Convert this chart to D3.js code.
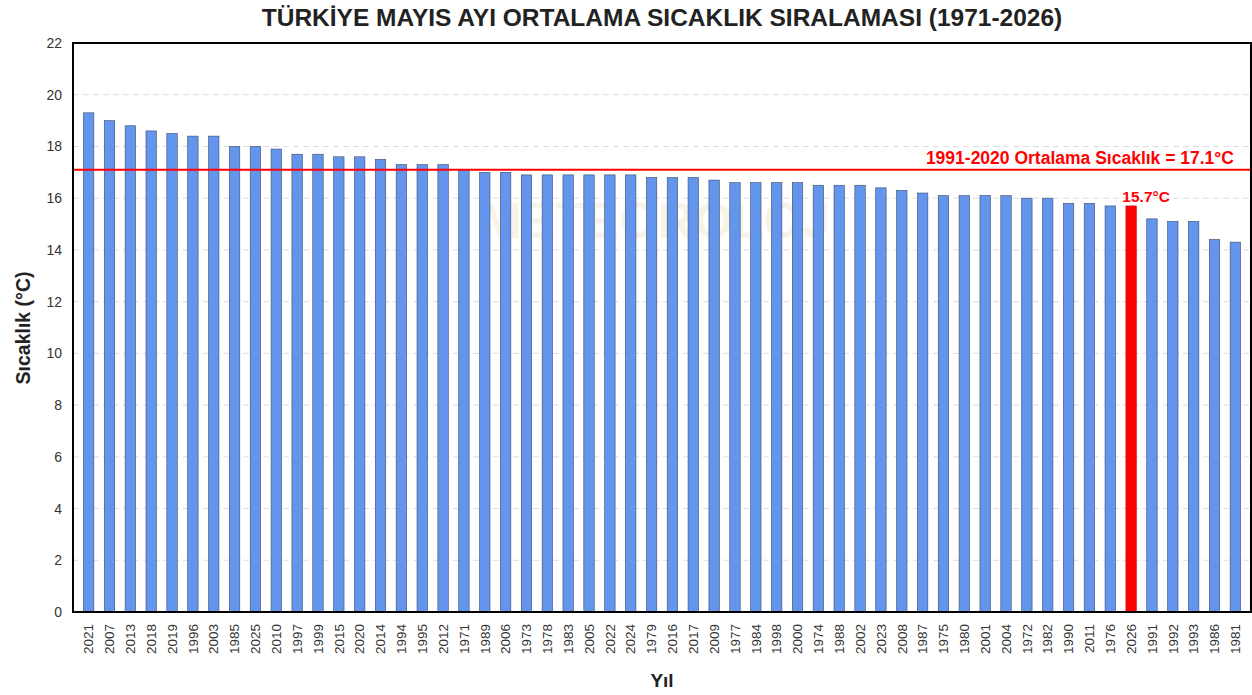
<!DOCTYPE html>
<html>
<head>
<meta charset="utf-8">
<script src="https://cdn.jsdelivr.net/npm/d3@7/dist/d3.min.js"></script>
<style>
  body { margin: 0; background: #fff; }
  text { font-family: "Liberation Sans", Arial, sans-serif; }
</style>
</head>
<body>
<svg width="1252" height="695"></svg>
<script>
// yillar (sirali) ve ortalama sicakliklar
var years = ["2021","2007","2013","2018","2019","1996","2003","1985","2025","2010",
  "1997","1999","2015","2020","2014","1994","1995","2012","1971","1989",
  "2006","1973","1978","1983","2005","2022","2024","1979","2016","2017",
  "2009","1977","1984","1998","2000","1974","1988","2002","2023","2008",
  "1987","1975","1980","2001","2004","1972","1982","1990","2011","1976",
  "2026","1991","1992","1993","1986","1981"];
var temps = [19.3,19.0,18.8,18.6,18.5,18.4,18.4,18.0,18.0,17.9,
  17.7,17.7,17.6,17.6,17.5,17.3,17.3,17.3,17.1,17.0,
  17.0,16.9,16.9,16.9,16.9,16.9,16.9,16.8,16.8,16.8,
  16.7,16.6,16.6,16.6,16.6,16.5,16.5,16.5,16.4,16.3,
  16.2,16.1,16.1,16.1,16.1,16.0,16.0,15.8,15.8,15.7,
  15.7,15.2,15.1,15.1,14.4,14.3];
var yTicks = [0,2,4,6,8,10,12,14,16,18,20,22];
var normal = 17.1;
var highlight = "2026";

var svg = d3.select("svg");
var pLeft = 73, pRight = 1251, pTop = 43, pBottom = 612;

var x = d3.scaleBand()
    .domain(years)
    .range([pLeft, pRight])
    .paddingInner(0.5)
    .paddingOuter(0.5);

var y = d3.scaleLinear()
    .domain([0, 22])
    .range([pBottom, pTop]);

// title
svg.append("text")
    .attr("x", (pLeft + pRight) / 2)
    .attr("y", 26)
    .attr("text-anchor", "middle")
    .style("font-size", "24.5px")
    .style("font-weight", "bold")
    .attr("fill", "#222")
    .text("TÜRKİYE MAYIS AYI ORTALAMA SICAKLIK SIRALAMASI (1971-2026)");

// grid
svg.append("g")
    .selectAll("line")
    .data(yTicks.slice(1, -1))
    .enter().append("line")
    .attr("x1", pLeft).attr("x2", pRight)
    .attr("y1", d => y(d)).attr("y2", d => y(d))
    .attr("stroke", "#dcdcdc")
    .attr("stroke-width", 1)
    .attr("stroke-dasharray", "6,4");

// faint watermark
svg.append("text")
    .attr("x", 662)
    .attr("y", 238)
    .attr("text-anchor", "middle")
    .style("font-size", "50px")
    .style("font-weight", "bold")
    .attr("fill", "#e6e0c0")
    .attr("opacity", 0.35)
    .text("METEOROLOJİ");

// bars
svg.append("g")
    .selectAll("rect")
    .data(years.map((d, i) => ({year: d, v: temps[i]})))
    .enter().append("rect")
    .attr("x", d => x(d.year))
    .attr("width", x.bandwidth())
    .attr("y", d => y(d.v))
    .attr("height", d => y(0) - y(d.v))
    .attr("fill", d => d.year == highlight ? "#ff0000" : "#6495ed")
    .attr("stroke", d => d.year == highlight ? "#cc0000" : "#3a4a6a")
    .attr("stroke-width", 0.6);

// normal line
svg.append("line")
    .attr("x1", pLeft).attr("x2", pRight)
    .attr("y1", y(normal)).attr("y2", y(normal))
    .attr("stroke", "#ff0000")
    .attr("stroke-width", 2);

svg.append("text")
    .attr("x", 1234)
    .attr("y", y(normal) - 6)
    .attr("text-anchor", "end")
    .attr("fill", "#ff0000")
    .style("font-size", "17.5px")
    .style("font-weight", "bold")
    .text("1991-2020 Ortalama Sıcaklık = " + normal + "°C");

var hv = temps[years.indexOf(highlight)];
svg.append("text")
    .attr("x", x(highlight) + x.bandwidth() / 2 + 15)
    .attr("y", y(hv) - 4)
    .attr("text-anchor", "middle")
    .attr("fill", "#ff0000")
    .style("font-size", "15.5px")
    .style("font-weight", "bold")
    .text(hv.toFixed(1) + "°C");

// axes
var yAxis = svg.append("g")
    .attr("transform", "translate(" + pLeft + ",0)")
    .call(d3.axisLeft(y).tickValues(yTicks).tickSize(0).tickPadding(11));
yAxis.select(".domain").remove();
yAxis.selectAll("text").style("font-size", "14px").attr("fill", "#333");

var xAxis = svg.append("g")
    .attr("transform", "translate(0," + pBottom + ")")
    .call(d3.axisBottom(x).tickSize(0));
xAxis.select(".domain").remove();
xAxis.selectAll("text")
    .style("font-size", "13.5px")
    .attr("fill", "#333")
    .attr("text-anchor", "end")
    .attr("transform", "rotate(-90)")
    .attr("x", -12)
    .attr("y", 0)
    .attr("dy", "0.35em");

// frame
svg.append("rect")
    .attr("x", pLeft).attr("y", pTop)
    .attr("width", pRight - pLeft).attr("height", pBottom - pTop)
    .attr("fill", "none")
    .attr("stroke", "#000")
    .attr("stroke-width", 2);

// axis labels
svg.append("text")
    .attr("transform", "translate(30," + 328 + ") rotate(-90)")
    .attr("text-anchor", "middle")
    .style("font-size", "19.5px")
    .style("font-weight", "bold")
    .attr("fill", "#222")
    .text("Sıcaklık (°C)");

svg.append("text")
    .attr("x", (pLeft + pRight) / 2)
    .attr("y", 687)
    .attr("text-anchor", "middle")
    .style("font-size", "19px")
    .style("font-weight", "bold")
    .attr("fill", "#222")
    .text("Yıl");
</script>
</body>
</html>
